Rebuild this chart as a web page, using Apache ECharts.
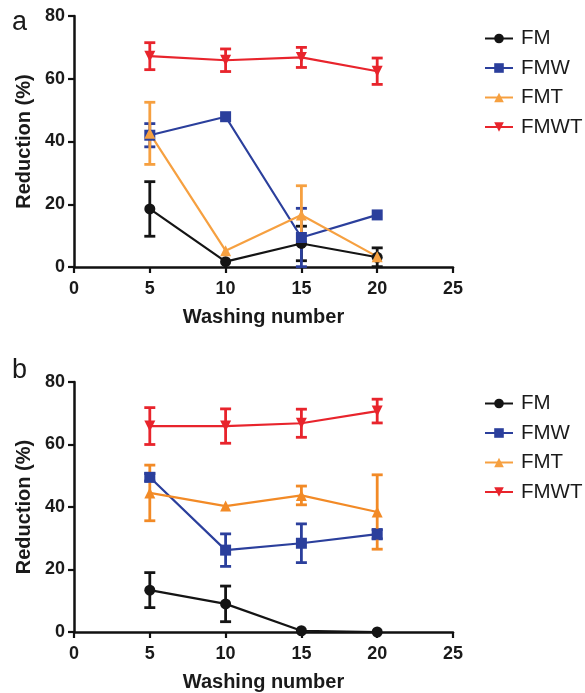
<!DOCTYPE html>
<html>
<head>
<meta charset="utf-8">
<script src="https://cdn.jsdelivr.net/npm/echarts@6/dist/echarts.min.js"></script>
<style>
html,body{margin:0;padding:0;background:#fff;}
#chart{width:585px;height:693px;}
</style>
</head>
<body>
<div id="chart"></div>
<script>
// ---- data ----
const washes = [5, 10, 15, 20];
const xTicks = [0, 5, 10, 15, 20, 25];
const yTicks = [0, 20, 40, 60, 80];
const seriesNames = ['FM', 'FMW', 'FMT', 'FMWT'];

// panel a
const aFM = [18.5, 1.7, 7.5, 3.1];
const aFMerr = [8.7, 0, 5.5, 3.0];
const aFMW = [42.0, 47.9, 9.4, 16.6];
const aFMWerr = [3.7, 0, 9.3, 0];
const aFMT = [42.6, 5.2, 16.6, 3.3];
const aFMTerr = [9.9, 0, 9.3, 0];
const aFMWT = [67.2, 65.9, 66.8, 62.4];
const aFMWTerr = [4.3, 3.6, 3.2, 4.2];

// panel b
const bFM = [13.4, 9.0, 0.4, 0.0];
const bFMerr = [5.6, 5.7, 0, 0];
const bFMW = [49.5, 26.2, 28.4, 31.3];
const bFMWerr = [1.2, 5.2, 6.2, 1.5];
const bFMT = [44.5, 40.3, 43.7, 38.4];
const bFMTerr = [8.9, 0, 3.0, 11.9];
const bFMWT = [65.9, 65.9, 66.8, 70.7];
const bFMWTerr = [5.9, 5.5, 4.5, 3.8];

// ---- styles ----
const FONT = '"Liberation Sans", Arial, Helvetica, sans-serif';
const colorsA = {FM: '#141414', FMW: '#2b3f9c', FMT: '#f6a040', FMWT: '#e8242c'};
const colorsB = {FM: '#141414', FMW: '#2b3f9c', FMT: '#f28a26', FMWT: '#e8242c'};
const symbols = {FM: 'circle', FMW: 'rect', FMT: 'triangle', FMWT: 'triangle'};
const symbolRot = {FM: 0, FMW: 0, FMT: 0, FMWT: 180};
const symbolSize = {FM: 11, FMW: 11, FMT: 11, FMWT: 11};

const panels = [
  {vals: {FM: aFM, FMW: aFMW, FMT: aFMT, FMWT: aFMWT},
   errs: {FM: aFMerr, FMW: aFMWerr, FMT: aFMTerr, FMWT: aFMWTerr}, colors: colorsA},
  {vals: {FM: bFM, FMW: bFMW, FMT: bFMT, FMWT: bFMWT},
   errs: {FM: bFMerr, FMW: bFMWerr, FMT: bFMTerr, FMWT: bFMWTerr}, colors: colorsB}
];

function makeErrRender(color) {
  return function (params, api) {
    const x = api.value(0), lo = api.value(1), hi = api.value(2);
    if (!(hi - lo > 0)) return null;
    const pt = api.coord([x, hi]);
    const pb = api.coord([x, lo]);
    const w = 5.5;
    const st = {stroke: color, lineWidth: 2.8};
    return {
      type: 'group',
      children: [
        {type: 'line', shape: {x1: pt[0], y1: pt[1], x2: pb[0], y2: pb[1]}, style: st},
        {type: 'line', shape: {x1: pt[0] - w, y1: pt[1], x2: pt[0] + w, y2: pt[1]}, style: st},
        {type: 'line', shape: {x1: pb[0] - w, y1: pb[1], x2: pb[0] + w, y2: pb[1]}, style: st}
      ]
    };
  };
}

const grids = [
  {left: 74, right: 132, top: 16, height: 251, containLabel: false},
  {left: 74, right: 132, top: 382, height: 251, containLabel: false}
];

function xAxisCfg(gi) {
  return {
    type: 'value', gridIndex: gi, min: 0, max: 25, interval: 5,
    name: 'Washing number', nameLocation: 'middle', nameGap: 40,
    nameTextStyle: {fontFamily: FONT, fontWeight: 'bold', fontSize: 20, color: '#1a1a1a'},
    axisLine: {show: true, onZero: false, lineStyle: {color: '#111', width: 2.5}},
    axisTick: {show: true, length: 6, lineStyle: {color: '#111', width: 2.2}},
    axisLabel: {fontFamily: FONT, fontWeight: 'bold', fontSize: 18, color: '#1a1a1a', margin: 13},
    splitLine: {show: false}
  };
}
function yAxisCfg(gi) {
  return {
    type: 'value', gridIndex: gi, min: 0, max: 80, interval: 20,
    name: 'Reduction (%)', nameLocation: 'middle', nameGap: 37,
    nameTextStyle: {fontFamily: FONT, fontWeight: 'bold', fontSize: 20, color: '#1a1a1a'},
    axisLine: {show: true, onZero: false, lineStyle: {color: '#111', width: 2.5}},
    axisTick: {show: true, length: 6, lineStyle: {color: '#111', width: 2.2}},
    axisLabel: {fontFamily: FONT, fontWeight: 'bold', fontSize: 18, color: '#1a1a1a', margin: 9},
    splitLine: {show: false}
  };
}

const series = [];
panels.forEach((p, gi) => {
  seriesNames.forEach(n => {
    const c = p.colors[n];
    series.push({
      type: 'custom', name: n + ' error ' + gi, xAxisIndex: gi, yAxisIndex: gi,
      renderItem: makeErrRender(c), silent: true, z: 2,
      encode: {x: 0, y: [1, 2]},
      data: washes.map((w, i) => [w, p.vals[n][i] - p.errs[n][i], p.vals[n][i] + p.errs[n][i]])
    });
  });
  seriesNames.forEach(n => {
    const c = p.colors[n];
    series.push({
      type: 'line', name: n, xAxisIndex: gi, yAxisIndex: gi,
      data: washes.map((w, i) => [w, p.vals[n][i]]),
      symbol: symbols[n], symbolSize: symbolSize[n], symbolRotate: symbolRot[n],
      showAllSymbol: true, clip: false, z: 3,
      lineStyle: {color: c, width: 2.2},
      itemStyle: {color: c, borderWidth: 0},
      emphasis: {disabled: true}
    });
  });
});

function legendCfg(top) {
  return {
    data: seriesNames, orient: 'vertical', left: 479, top: top,
    itemWidth: 28, itemHeight: 12, itemGap: 8.5,
    textStyle: {fontFamily: FONT, fontSize: 20.5, color: '#1a1a1a', lineHeight: 20, padding: [0, 0, 0, 3]},
    selectedMode: false
  };
}

const chart = echarts.init(document.getElementById('chart'), null, {renderer: 'canvas'});
chart.setOption({
  animation: false,
  backgroundColor: '#fff',
  grid: grids,
  xAxis: [xAxisCfg(0), xAxisCfg(1)],
  yAxis: [yAxisCfg(0), yAxisCfg(1)],
  legend: [legendCfg(23), legendCfg(388)],
  graphic: [
    {type: 'text', left: 12, top: 9, style: {text: 'a', fontFamily: FONT, fontSize: 27, fill: '#1a1a1a'}},
    {type: 'text', left: 12, top: 357, style: {text: 'b', fontFamily: FONT, fontSize: 27, fill: '#1a1a1a'}}
  ],
  series: series
});
</script>
</body>
</html>
